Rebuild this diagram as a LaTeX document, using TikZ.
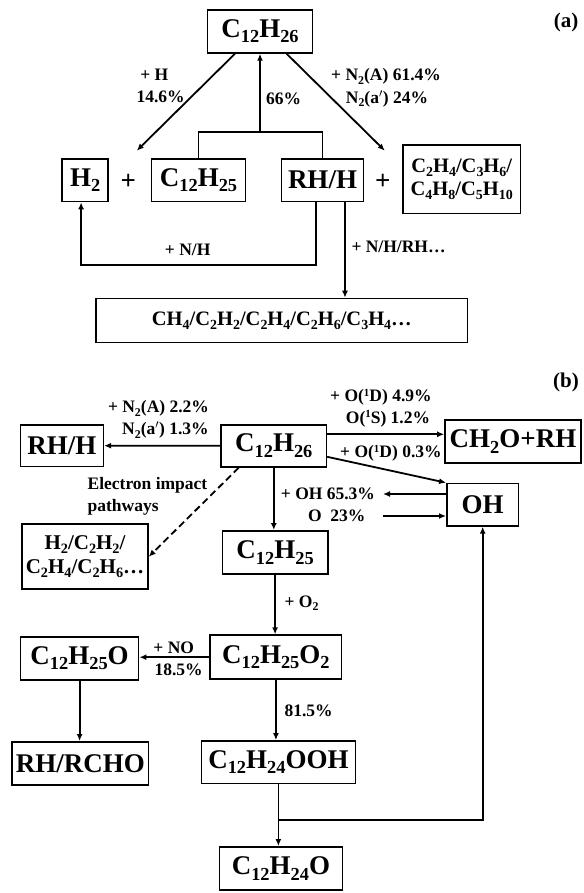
\documentclass[tikz,border=0pt]{standalone}
\usepackage{fontspec}
\setmainfont{Liberation Serif}
\usetikzlibrary{arrows.meta,calc}
\newcommand{\sbb}[1]{\raisebox{-0.2em}{\scalebox{0.68}{#1}}}
\newcommand{\spp}[1]{\raisebox{0.33em}{\scalebox{0.62}{#1}}}
\begin{document}
\begin{tikzpicture}[x=1pt,y=-1pt,
  box/.style={draw,line width=1.6pt,inner sep=0pt,align=center,font=\fontsize{27}{30}\selectfont\bfseries},
  smallbox/.style={box,font=\fontsize{20.5}{23.5}\selectfont\bfseries},
  lbl/.style={inner sep=0pt,font=\fontsize{17.5}{21}\selectfont\bfseries},
  plus/.style={inner sep=0pt,font=\fontsize{27}{30}\selectfont\bfseries},
  tag/.style={inner sep=0pt,font=\fontsize{21}{24}\selectfont\bfseries},
  arr/.style={line width=1.8pt,-{Latex[length=7pt,width=6pt]}},
  ln/.style={line width=1.8pt},
]
\useasboundingbox (0,0) rectangle (583,893);

% ---------------- panel (a) ----------------
\node[tag] (tagA) at (566,22) {(a)};
\node[box,minimum width=105pt,minimum height=43pt] (atop) at (260,31.4) {C\sbb{12}H\sbb{26}};
\node[box,minimum width=46pt,minimum height=42.7pt] (ah2) at (85.1,180.2) {H\sbb{2}};
\node[plus] (p1) at (128.3,182) {+};
\node[box,minimum width=94.3pt,minimum height=42.7pt] (ac25) at (198.5,180.2) {C\sbb{12}H\sbb{25}};
\node[box,minimum width=82pt,minimum height=42.7pt] (arh) at (322.5,180.2) {RH/H};
\node[plus] (p2) at (382.9,182) {+};
\node[smallbox,minimum width=117.4pt,minimum height=68.4pt] (ac2) at (461.7,179.3) {C\sbb{2}H\sbb{4}/C\sbb{3}H\sbb{6}/\\C\sbb{4}H\sbb{8}/C\sbb{5}H\sbb{10}};
\node[box,font=\fontsize{20.5}{24}\selectfont\bfseries,minimum width=371.6pt,minimum height=44pt] (abig) at (281.8,320.5) {CH\sbb{4}/C\sbb{2}H\sbb{2}/C\sbb{2}H\sbb{4}/C\sbb{2}H\sbb{6}/C\sbb{3}H\sbb{4}…};

\coordinate (aL) at (136.8,150.7);
\coordinate (aR) at (384.8,150.7);
\coordinate (aj) at (260,132);
\draw[arr] ([xshift=-25pt]atop.south) -- (aL);
\draw[arr] ([xshift=26.6pt]atop.south) -- (aR);
\draw[ln] (ac25.north) -- (ac25.north |- aj) -- (arh.north |- aj) -- (arh.north);
\draw[arr] (aj) -- (atop.south);
\draw[arr] ([xshift=-6.5pt]arh.south) -- ++(0,62.7) -| ([xshift=-4pt]ah2.south);
\draw[arr] ([xshift=22.5pt]arh.south) -- ([xshift=22.5pt]arh.south |- abig.north);

\node[lbl] (la1) at (154.3,75) {+ H};
\node[lbl] (la2) at (160.6,96.7) {14.6\%};
\node[lbl] (la3) at (283.6,99) {66\%};
\node[lbl,anchor=west] (la4) at (331,76.7) {+ N\sbb{2}(A) 61.4\%};
\node[lbl,anchor=west] (la5) at (345.7,98.7) {N\sbb{2}(a$'$) 24\%};
\node[lbl] (la6) at (187.7,250) {+ N/H};
\node[lbl,anchor=west] (la7) at (351.3,247.3) {+ N/H/RH…};

% ---------------- panel (b) ----------------
\node[tag] (tagB) at (566,382) {(b)};
\node[box,minimum width=82.8pt,minimum height=41.7pt] (brh) at (61.9,445.7) {RH/H};
\node[box,minimum width=105.1pt,minimum height=42.1pt] (bc26) at (273.8,445.8) {C\sbb{12}H\sbb{26}};
\node[box,minimum width=136pt,minimum height=43.4pt] (bch2o) at (513,441.5) {CH\sbb{2}O+RH};
\node[box,minimum width=71.7pt,minimum height=42.4pt] (boh) at (482.7,504.7) {OH};
\node[smallbox,font=\fontsize{21}{23.5}\selectfont\bfseries,minimum width=125.9pt,minimum height=65.1pt] (bh2c) at (85,556.7) {H\sbb{2}/C\sbb{2}H\sbb{2}/\\C\sbb{2}H\sbb{4}/C\sbb{2}H\sbb{6}…};
\node[box,minimum width=105.4pt,minimum height=43.4pt] (bc25) at (275.1,552.5) {C\sbb{12}H\sbb{25}};
\node[box,minimum width=131.5pt,minimum height=44.1pt] (bo2) at (275.9,657.2) {C\sbb{12}H\sbb{25}O\sbb{2}};
\node[box,minimum width=118.1pt,minimum height=43.1pt] (bc25o) at (79.6,658.3) {C\sbb{12}H\sbb{25}O};
\node[box,minimum width=136.6pt,minimum height=43.4pt] (brch) at (80.3,763.5) {RH/RCHO};
\node[box,minimum width=153.8pt,minimum height=42.7pt] (booh) at (278.4,762.2) {C\sbb{12}H\sbb{24}OOH};
\node[box,minimum width=122.9pt,minimum height=43.4pt] (bc24o) at (280.9,868.5) {C\sbb{12}H\sbb{24}O};

\coordinate (oh1) at (383,494);
\coordinate (oh2) at (383,516);
\coordinate (bjy) at (0,820);
\draw[arr] (bc26.west) -- (brh.east);
\draw[arr] ([yshift=11.5pt]bc26.east) -- ([yshift=11.5pt]bc26.east -| bch2o.west);
\draw[arr] ([yshift=-11pt]bc26.east) -- (boh.north west);
\draw[arr] (boh.west |- oh1) -- (oh1);
\draw[arr] (oh2) -- (boh.west |- oh2);
\draw[arr] (bc26.south) -- (bc26.south |- bc25.north);
\draw[arr,dash pattern=on 7pt off 4pt] ([xshift=-35pt]bc26.south) -- (bh2c.east);
\draw[arr] (bc25.south) -- (bc25.south |- bo2.north);
\draw[arr] (bo2.west) -- (bo2.west -| bc25o.east);
\draw[arr] (bc25o.south) -- (bc25o.south |- brch.north);
\draw[arr] (bo2.south) -- (bo2.south |- booh.north);
\draw[arr] (booh.south) -- (booh.south |- bc24o.north);
\draw[arr] (booh.south |- bjy) -| (boh.south);

\node[lbl,anchor=west] (lb1) at (107.8,408.3) {+ N\sbb{2}(A) 2.2\%};
\node[lbl,anchor=west] (lb2) at (122,430) {N\sbb{2}(a$'$) 1.3\%};
\node[lbl,anchor=west] (lb3) at (330,397.3) {+ O(\spp{1}D) 4.9\%};
\node[lbl,anchor=west] (lb4) at (345.7,419) {O(\spp{1}S) 1.2\%};
\node[lbl,anchor=west] (lb5) at (340,453.3) {+ O(\spp{1}D) 0.3\%};
\node[lbl,anchor=west] (lb6) at (280.7,494) {+ OH 65.3\%};
\node[lbl,anchor=west] (lb7) at (307.8,516) {O\ \ 23\%};
\node[lbl,anchor=west] (lb8) at (87.4,485.7) {Electron impact};
\node[lbl,anchor=west] (lb9) at (87.4,507.3) {pathways};
\node[lbl,anchor=west] (lb10) at (284.4,603) {+ O\sbb{2}};
\node[lbl,anchor=west] (lb11) at (153.2,647.7) {+ NO};
\node[lbl,anchor=west] (lb12) at (154.3,669.3) {18.5\%};
\node[lbl,anchor=west] (lb13) at (284.4,711) {81.5\%};
\end{tikzpicture}
\end{document}
